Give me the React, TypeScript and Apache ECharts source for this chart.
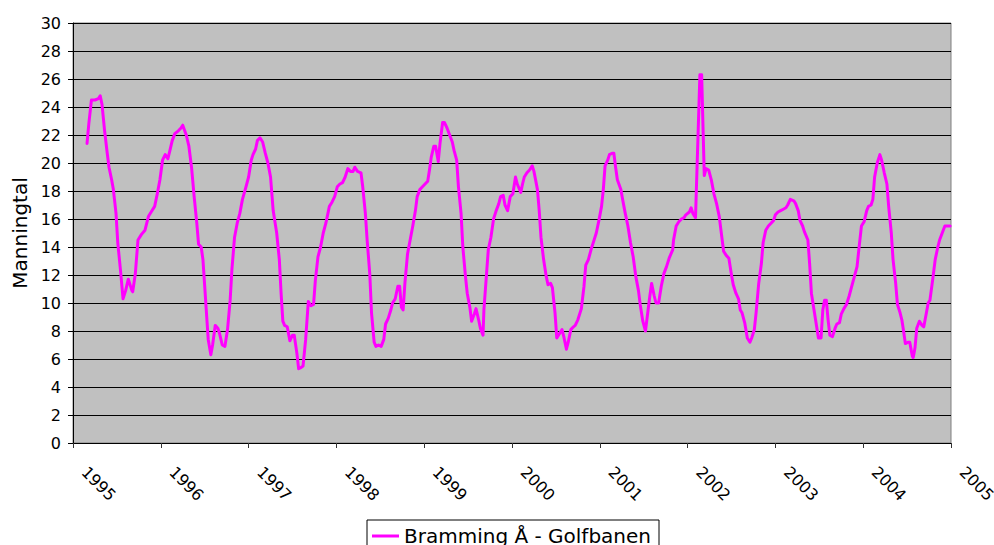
import React, { useEffect, useRef } from "react";
import * as echarts from "echarts";

// Decimal-year positions of the traced samples
const sampleDates: number[] = [
  1995.16, 1995.18, 1995.21, 1995.25, 1995.29, 1995.31, 1995.33, 1995.36, 1995.39, 1995.41,
  1995.44, 1995.46, 1995.49, 1995.51, 1995.54, 1995.57, 1995.6, 1995.63, 1995.67, 1995.68,
  1995.71, 1995.74, 1995.78, 1995.82, 1995.86, 1995.89, 1995.93, 1995.96, 1995.99,
  1996.02, 1996.05, 1996.08, 1996.1, 1996.13, 1996.16, 1996.2, 1996.23, 1996.25, 1996.29,
  1996.32, 1996.35, 1996.38, 1996.41, 1996.43, 1996.46, 1996.48, 1996.5, 1996.52, 1996.54,
  1996.57, 1996.59, 1996.62, 1996.65, 1996.67, 1996.7, 1996.73, 1996.76, 1996.79, 1996.81,
  1996.84, 1996.87, 1996.9, 1996.93, 1996.97,
  1997.0, 1997.03, 1997.05, 1997.08, 1997.1, 1997.13, 1997.16, 1997.19, 1997.22, 1997.25,
  1997.28, 1997.32, 1997.35, 1997.37, 1997.39, 1997.41, 1997.44, 1997.47, 1997.5, 1997.52,
  1997.55, 1997.57, 1997.6, 1997.62, 1997.65, 1997.68, 1997.71, 1997.74, 1997.76, 1997.79,
  1997.82, 1997.85, 1997.88, 1997.92, 1997.95, 1997.98,
  1998.01, 1998.04, 1998.07, 1998.1, 1998.13, 1998.16, 1998.19, 1998.21, 1998.24, 1998.28,
  1998.3, 1998.33, 1998.35, 1998.38, 1998.4, 1998.43, 1998.45, 1998.48, 1998.51, 1998.54,
  1998.56, 1998.59, 1998.62, 1998.64, 1998.67, 1998.7, 1998.72, 1998.74, 1998.76, 1998.78,
  1998.81, 1998.84, 1998.87, 1998.9, 1998.92, 1998.95, 1998.98,
  1999.01, 1999.04, 1999.06, 1999.08, 1999.11, 1999.13, 1999.16, 1999.18, 1999.21, 1999.23,
  1999.26, 1999.29, 1999.32, 1999.34, 1999.37, 1999.39, 1999.42, 1999.44, 1999.47, 1999.49,
  1999.52, 1999.54, 1999.57, 1999.59, 1999.62, 1999.64, 1999.67, 1999.68, 1999.71, 1999.73,
  1999.76, 1999.79, 1999.82, 1999.85, 1999.87, 1999.9, 1999.92, 1999.95, 1999.98,
  2000.01, 2000.04, 2000.06, 2000.1, 2000.12, 2000.14, 2000.17, 2000.2, 2000.23, 2000.25,
  2000.29, 2000.31, 2000.33, 2000.36, 2000.39, 2000.41, 2000.44, 2000.46, 2000.49, 2000.51,
  2000.54, 2000.57, 2000.59, 2000.62, 2000.64, 2000.67, 2000.7, 2000.72, 2000.75, 2000.79,
  2000.82, 2000.84, 2000.87, 2000.9, 2000.93, 2000.96, 2000.99,
  2001.02, 2001.04, 2001.06, 2001.09, 2001.11, 2001.14, 2001.16, 2001.18, 2001.2, 2001.24,
  2001.26, 2001.29, 2001.32, 2001.35, 2001.38, 2001.41, 2001.44, 2001.46, 2001.49, 2001.52,
  2001.55, 2001.57, 2001.59, 2001.62, 2001.64, 2001.67, 2001.7, 2001.73, 2001.76, 2001.79,
  2001.83, 2001.84, 2001.87, 2001.9, 2001.93, 2001.96, 2001.98,
  2002.02, 2002.04, 2002.06, 2002.09, 2002.14, 2002.16, 2002.19,
  2002.21, 2002.24, 2002.27, 2002.3, 2002.33, 2002.36, 2002.38, 2002.41, 2002.44, 2002.47,
  2002.5, 2002.52, 2002.55, 2002.58, 2002.6, 2002.62, 2002.65, 2002.68, 2002.71, 2002.73,
  2002.76, 2002.78, 2002.81, 2002.84, 2002.86, 2002.89, 2002.92, 2002.95, 2002.98,
  2003.0, 2003.03, 2003.06, 2003.09, 2003.12, 2003.14, 2003.17, 2003.21, 2003.23, 2003.26,
  2003.28, 2003.31, 2003.33, 2003.37, 2003.39, 2003.41, 2003.44, 2003.47, 2003.49, 2003.52,
  2003.54, 2003.56, 2003.58, 2003.6, 2003.62, 2003.65, 2003.68, 2003.7, 2003.73, 2003.75,
  2003.78, 2003.81, 2003.84, 2003.87, 2003.9, 2003.93, 2003.95, 2003.98,
  2004.01, 2004.04, 2004.06, 2004.09, 2004.11, 2004.13, 2004.16, 2004.19, 2004.21, 2004.24,
  2004.27, 2004.29, 2004.32, 2004.34, 2004.37, 2004.39, 2004.42, 2004.44, 2004.46, 2004.48,
  2004.51, 2004.53, 2004.56, 2004.57, 2004.59, 2004.61, 2004.64, 2004.67, 2004.69, 2004.72,
  2004.74, 2004.76, 2004.79, 2004.82, 2004.85, 2004.87, 2004.9, 2004.93, 2004.96, 2004.99,
];

// Manningtal values
const sampleValues: number[] = [
  21.4, 22.8, 24.5, 24.5, 24.6, 24.8, 24.2, 22.3, 20.7, 19.7,
  18.8, 18.1, 16.4, 14.3, 12.4, 10.3, 10.9, 11.7, 10.9, 10.8,
  12.1, 14.5, 14.9, 15.2, 16.2, 16.5, 16.9, 17.8, 18.8,
  20.2, 20.6, 20.3, 20.8, 21.6, 22.1, 22.3, 22.5, 22.7, 22.0,
  21.2, 19.7, 17.6, 15.7, 14.2, 14.0, 13.1, 11.2, 9.3, 7.4,
  6.3, 7.0, 8.4, 8.2, 7.8, 7.0, 6.9, 8.1, 10.2, 12.4,
  14.7, 15.7, 16.4, 17.4, 18.3,
  19.0, 20.2, 20.6, 21.0, 21.6, 21.8, 21.5, 20.7, 20.0, 19.0,
  16.6, 15.0, 13.1, 10.7, 8.7, 8.4, 8.3, 7.3, 7.7, 7.7,
  6.4, 5.3, 5.4, 5.5, 7.4, 10.1, 9.8, 9.9, 11.6, 13.3,
  14.0, 15.0, 15.7, 16.9, 17.2, 17.6,
  18.3, 18.5, 18.6, 19.0, 19.6, 19.4, 19.4, 19.7, 19.4, 19.3,
  18.3, 16.4, 14.5, 12.1, 9.3, 7.2, 6.9, 7.0, 6.9, 7.4,
  8.5, 8.9, 9.5, 10.0, 10.3, 11.2, 11.2, 9.7, 9.5, 11.4,
  13.5, 14.5, 15.5, 16.6, 17.6, 18.1, 18.3,
  18.5, 18.7, 19.5, 20.4, 21.2, 21.2, 20.1, 21.4, 22.9, 22.9,
  22.5, 22.0, 21.5, 20.9, 20.2, 18.3, 16.4, 14.0, 11.9, 10.7,
  9.7, 8.7, 9.2, 9.6, 8.8, 8.2, 7.7, 9.5, 12.1, 13.8,
  14.7, 16.0, 16.6, 17.1, 17.6, 17.7, 17.0, 16.6, 17.6,
  17.8, 19.0, 18.5, 17.9, 18.5, 19.0, 19.3, 19.5, 19.8, 19.4,
  18.1, 16.6, 14.7, 13.1, 11.9, 11.3, 11.4, 11.1, 9.3, 7.5,
  7.8, 8.1, 7.6, 6.7, 7.2, 8.1, 8.3, 8.4, 8.8, 9.6,
  11.2, 12.7, 13.1, 13.8, 14.4, 15.0, 15.9,
  16.9, 18.1, 19.8, 20.2, 20.6, 20.7, 20.7, 19.7, 18.8, 18.1,
  17.4, 16.4, 15.5, 14.3, 13.3, 11.9, 10.9, 9.9, 8.7, 8.0,
  9.5, 10.5, 11.4, 10.5, 10.0, 10.0, 11.2, 12.1, 12.6, 13.2,
  13.8, 14.5, 15.5, 15.8, 16.0, 16.1, 16.3,
  16.5, 16.8, 16.4, 16.1, 26.3, 26.3, 19.1,
  19.6, 19.5, 18.8, 17.8, 17.1, 16.2, 15.2, 13.7, 13.4, 13.2,
  12.0, 11.3, 10.7, 10.3, 9.5, 9.3, 8.6, 7.5, 7.2, 7.5,
  8.1, 9.3, 11.4, 12.8, 14.3, 15.2, 15.5, 15.7, 15.9,
  16.3, 16.5, 16.6, 16.7, 16.8, 17.0, 17.4, 17.3, 17.1, 16.6,
  15.9, 15.5, 15.1, 14.5, 12.8, 10.7, 9.5, 8.3, 7.5, 7.5,
  9.5, 10.2, 10.2, 8.8, 7.7, 7.6, 8.2, 8.5, 8.6, 9.2,
  9.6, 9.9, 10.5, 11.2, 11.9, 12.6, 13.8, 15.5,
  15.8, 16.6, 16.9, 17.0, 17.4, 19.0, 20.0, 20.6, 20.2, 19.3,
  18.5, 16.9, 15.0, 13.1, 11.4, 9.9, 9.3, 8.8, 8.0, 7.1,
  7.2, 7.2, 6.2, 6.1, 6.8, 8.2, 8.7, 8.4, 8.3, 9.3,
  10.0, 10.2, 11.6, 13.1, 14.0, 14.5, 15.0, 15.5, 15.5, 15.5,
];

const xMin = 1995;
const xMax = 2005;
const yMin = 0;
const yMax = 30;
const yStep = 2;
const seriesName = "Bramming Å - Golfbanen";
const yAxisTitle = "Manningtal";

const FONT = '"DejaVu Sans", Verdana, sans-serif';

export default function App() {
  const ref = useRef<HTMLDivElement>(null);

  useEffect(() => {
    document.body.style.margin = "0";
    document.body.style.overflow = "hidden";
    if (!ref.current) return;
    const chart = echarts.init(ref.current, undefined, { renderer: "svg" });
    const data = sampleDates.map((d, i) => [d, sampleValues[i]]);
    chart.setOption({
      animation: false,
      backgroundColor: "#ffffff",
      textStyle: { fontFamily: FONT },
      grid: {
        left: 73,
        right: 43,
        top: 23,
        bottom: 102,
        containLabel: false,
        outerBoundsMode: "none",
        show: true,
        backgroundColor: "#c0c0c0",
        borderColor: "#808080",
        borderWidth: 1,
      },
      legend: {
        left: 367,
        top: 520,
        padding: [6, 8, 6, 5],
        borderColor: "#000000",
        borderWidth: 1,
        icon: "rect",
        itemWidth: 27,
        itemHeight: 3,
        itemGap: 5,
        textStyle: { fontFamily: FONT, fontSize: 20, color: "#000000" },
        data: [{ name: seriesName, itemStyle: { color: "#ff00ff" } }],
      },
      xAxis: {
        type: "value",
        min: xMin,
        max: xMax,
        interval: 1,
        axisLine: { show: true, lineStyle: { color: "#000000", width: 1 } },
        axisTick: { show: true, length: 5, lineStyle: { color: "#333333" } },
        splitLine: { show: false },
        axisLabel: {
          rotate: -45,
          margin: 15,
          padding: [0, 0, 0, 16],
          fontSize: 16,
          fontFamily: FONT,
          color: "#000000",
          formatter: (v: number) => String(v),
        },
      },
      yAxis: {
        type: "value",
        min: yMin,
        max: yMax,
        interval: yStep,
        name: yAxisTitle,
        nameLocation: "middle",
        nameGap: 42,
        nameTextStyle: { fontFamily: FONT, fontSize: 20, color: "#000000" },
        axisLine: { show: true, lineStyle: { color: "#000000", width: 1 } },
        axisTick: { show: true, length: 5, lineStyle: { color: "#000000" } },
        splitLine: { show: true, lineStyle: { color: "#000000", width: 1 } },
        axisLabel: { margin: 12, fontSize: 16, fontFamily: FONT, color: "#000000" },
      },
      series: [
        {
          name: seriesName,
          type: "line",
          data,
          showSymbol: false,
          symbol: "none",
          lineStyle: { color: "#ff00ff", width: 3, join: "round", cap: "round" },
          itemStyle: { color: "#ff00ff" },
        },
      ],
    });
    return () => chart.dispose();
  }, []);

  return (
    <div style={{ width: 994, height: 545, overflow: "hidden", position: "relative" }}>
      <div ref={ref} style={{ width: 994, height: 545 }} />
    </div>
  );
}
